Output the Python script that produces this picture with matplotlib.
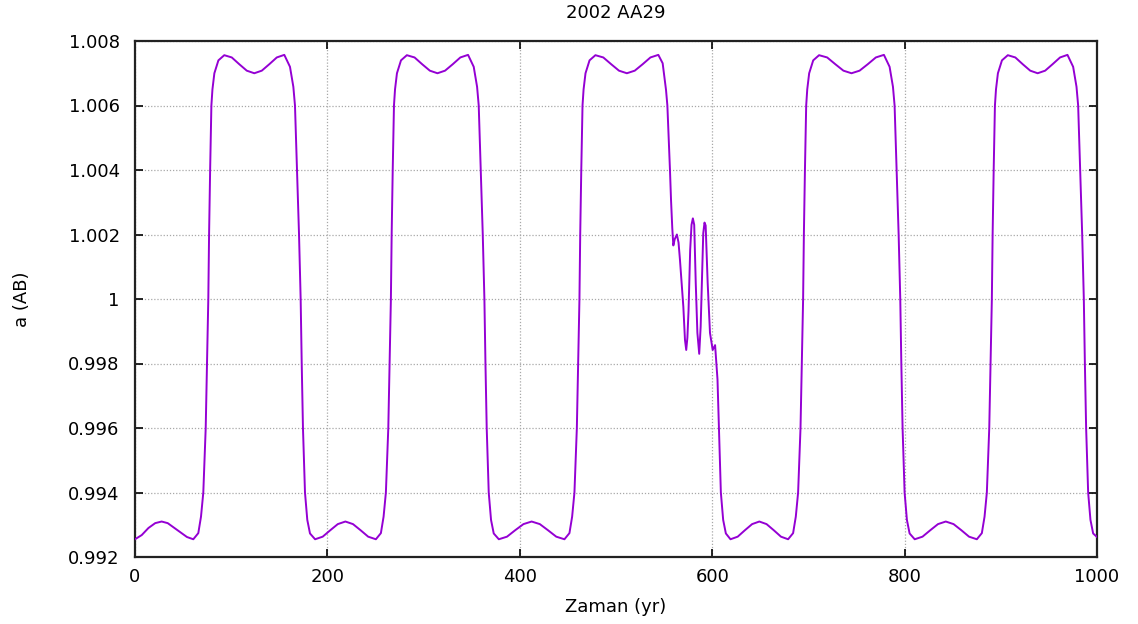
import matplotlib
matplotlib.use("Agg")
import matplotlib.pyplot as plt

title = "2002 AA29"
xlabel = "Zaman (yr)"
ylabel = "a (AB)"
xticks = [0, 200, 400, 600, 800, 1000]
yticks = [0.992, 0.994, 0.996, 0.998, 1.000, 1.002, 1.004, 1.006, 1.008]
ytick_labels = ["0.992", "0.994", "0.996", "0.998", "1", "1.002", "1.004", "1.006", "1.008"]

# time (yr)
t = [
    0, 7, 14, 21, 27.7, 34, 41, 48, 54, 60.6,
    65.8, 68.6, 71.0, 73.5, 74.8, 76.2, 77.0, 78.1, 79.4, 80.5, 82.5, 86.7, 92.8,
    100.6, 108.4, 116.2, 124.0, 131.8, 139.6, 147.4, 155.2,
    161.1, 164.6, 166.3, 168.4, 170.5, 172.2, 173.3, 174.6, 176.7, 179.1, 181.9, 187.2,
    195.1, 203.0, 210.8, 218.7, 226.6, 234.5, 242.4, 250.4,
    255.6, 258.4, 260.8, 263.3, 264.6, 266.0, 266.8, 267.9, 269.2, 270.3, 272.3, 276.5, 282.6,
    290.6, 298.5, 306.5, 314.4, 322.3, 330.3, 338.2, 346.2,
    352.1, 355.6, 357.3, 359.4, 361.5, 363.2, 364.3, 365.6, 367.7, 370.1, 372.9, 378.2,
    386.7, 395.2, 403.8, 412.3, 420.8, 429.3, 437.9, 446.4,
    451.6, 454.4, 456.8, 459.3, 460.6, 462.0, 462.8, 463.9, 465.2, 466.3, 468.3, 472.5, 478.6,
    486.8, 495.0, 503.1, 511.3, 519.5, 527.7, 535.8, 544.0,
    548.5, 552.0, 553.4, 556.1, 557.2, 558.5, 559.6, 561.0, 563.3, 565.0, 566.5, 570.0,
    571.7, 573.0, 574.2, 575.4, 577.1, 578.5, 579.9, 581.3, 582.9, 584.6, 586.5, 588.0,
    589.7, 590.7, 592.0, 593.2, 595.3, 597.7, 600.5, 603.0, 605.5, 607.0, 609.0, 611.4,
    614.2, 619.0,
    626.5, 634.0, 641.5, 649.0, 656.5, 664.0, 671.5, 678.9,
    684.1, 686.9, 689.3, 691.8, 693.1, 694.5, 695.3, 696.4, 697.7, 698.8, 700.8, 705.0, 711.1,
    719.5, 728.0, 736.4, 744.8, 753.2, 761.7, 770.1, 778.5,
    784.4, 787.9, 789.6, 791.7, 793.8, 795.5, 796.6, 797.9, 800.0, 802.4, 805.2, 810.5,
    818.6, 826.7, 834.7, 842.8, 850.9, 859.0, 867.0, 875.1,
    880.3, 883.1, 885.5, 888.0, 889.3, 890.7, 891.5, 892.6, 893.9, 895.0, 897.0, 901.2, 907.3,
    915.1, 922.8, 930.6, 938.3, 946.1, 953.8, 961.6, 969.3,
    975.2, 978.7, 980.4, 982.5, 984.6, 986.3, 987.4, 988.7, 990.8, 993.2, 996.0, 1000.0,
]

# semi-major axis (AU)
a = [
    0.99255, 0.99268, 0.99290, 0.99305, 0.99310, 0.99305, 0.99290, 0.99275, 0.99262, 0.99255,
    0.99274, 0.99325, 0.99400, 0.99600, 0.99800, 1.00000, 1.00200, 1.00400, 1.00600, 1.00650, 1.00700, 1.00740, 1.00756,
    1.00749, 1.00728, 1.00708, 1.00700, 1.00708, 1.00728, 1.00749, 1.00757,
    1.00720, 1.00658, 1.00600, 1.00400, 1.00200, 1.00000, 0.99800, 0.99600, 0.99400, 0.99315, 0.99273, 0.99255,
    0.99263, 0.99283, 0.99302, 0.99310, 0.99302, 0.99283, 0.99263, 0.99255,
    0.99274, 0.99325, 0.99400, 0.99600, 0.99800, 1.00000, 1.00200, 1.00400, 1.00600, 1.00650, 1.00700, 1.00740, 1.00756,
    1.00749, 1.00728, 1.00708, 1.00700, 1.00708, 1.00728, 1.00749, 1.00757,
    1.00720, 1.00658, 1.00600, 1.00400, 1.00200, 1.00000, 0.99800, 0.99600, 0.99400, 0.99315, 0.99273, 0.99255,
    0.99263, 0.99283, 0.99302, 0.99310, 0.99302, 0.99283, 0.99263, 0.99255,
    0.99274, 0.99325, 0.99400, 0.99600, 0.99800, 1.00000, 1.00200, 1.00400, 1.00600, 1.00650, 1.00700, 1.00740, 1.00756,
    1.00749, 1.00728, 1.00708, 1.00700, 1.00708, 1.00728, 1.00749, 1.00757,
    1.00731, 1.00648, 1.00600, 1.00400, 1.00307, 1.00220, 1.00166, 1.00185, 1.00200, 1.00175, 1.00121, 0.99976,
    0.99873, 0.99842, 0.99880, 0.99964, 1.00152, 1.00230, 1.00250, 1.00230, 1.00049, 0.99895, 0.99830, 0.99914,
    1.00100, 1.00204, 1.00237, 1.00228, 1.00049, 0.99895, 0.99842, 0.99857, 0.99751, 0.99600, 0.99400, 0.99315,
    0.99273, 0.99255,
    0.99263, 0.99283, 0.99302, 0.99310, 0.99302, 0.99283, 0.99263, 0.99255,
    0.99274, 0.99325, 0.99400, 0.99600, 0.99800, 1.00000, 1.00200, 1.00400, 1.00600, 1.00650, 1.00700, 1.00740, 1.00756,
    1.00749, 1.00728, 1.00708, 1.00700, 1.00708, 1.00728, 1.00749, 1.00757,
    1.00720, 1.00658, 1.00600, 1.00400, 1.00200, 1.00000, 0.99800, 0.99600, 0.99400, 0.99315, 0.99273, 0.99255,
    0.99263, 0.99283, 0.99302, 0.99310, 0.99302, 0.99283, 0.99263, 0.99255,
    0.99274, 0.99325, 0.99400, 0.99600, 0.99800, 1.00000, 1.00200, 1.00400, 1.00600, 1.00650, 1.00700, 1.00740, 1.00756,
    1.00749, 1.00728, 1.00708, 1.00700, 1.00708, 1.00728, 1.00749, 1.00757,
    1.00720, 1.00658, 1.00600, 1.00400, 1.00200, 1.00000, 0.99800, 0.99600, 0.99400, 0.99315, 0.99273, 0.99262,
]

plt.rcParams['font.family'] = ['DejaVu Sans']

W, H = 1138, 624
fig = plt.figure(figsize=(W / 100, H / 100), dpi=100)
ax = fig.add_axes([135 / W, 1 - 557 / H, (1097 - 135) / W, (557 - 41) / H])

ax.plot(t, a, color='#9400D3', lw=1.4, solid_joinstyle='round', zorder=3)

ax.set_xlim(0, 1000)
ax.set_ylim(0.992, 1.008)
ax.set_xticks(xticks)
ax.set_xticklabels([str(v) for v in xticks])
ax.set_yticks(yticks)
ax.set_yticklabels(ytick_labels)

ax.tick_params(axis='both', direction='in', length=6, width=1.2, labelsize=13,
               top=True, right=True, colors='black')
ax.tick_params(axis='y', pad=11)
ax.tick_params(axis='x', pad=8)

ax.grid(True, color='#a8a8a8', linestyle=(0, (1, 1.5)), linewidth=0.9, zorder=1)
for s in ax.spines.values():
    s.set_linewidth(1.6)
    s.set_color('#222222')

fig.text((135 + 1097) / 2 / W, 1 - 13 / H, title, ha='center', va='center', fontsize=13)
fig.text((135 + 1097) / 2 / W, 1 - 607 / H, xlabel, ha='center', va='center', fontsize=13)
fig.text(22 / W, 1 - 299 / H, ylabel, ha='center', va='center', rotation=90, fontsize=13)

fig.savefig('out.png', dpi=100)
